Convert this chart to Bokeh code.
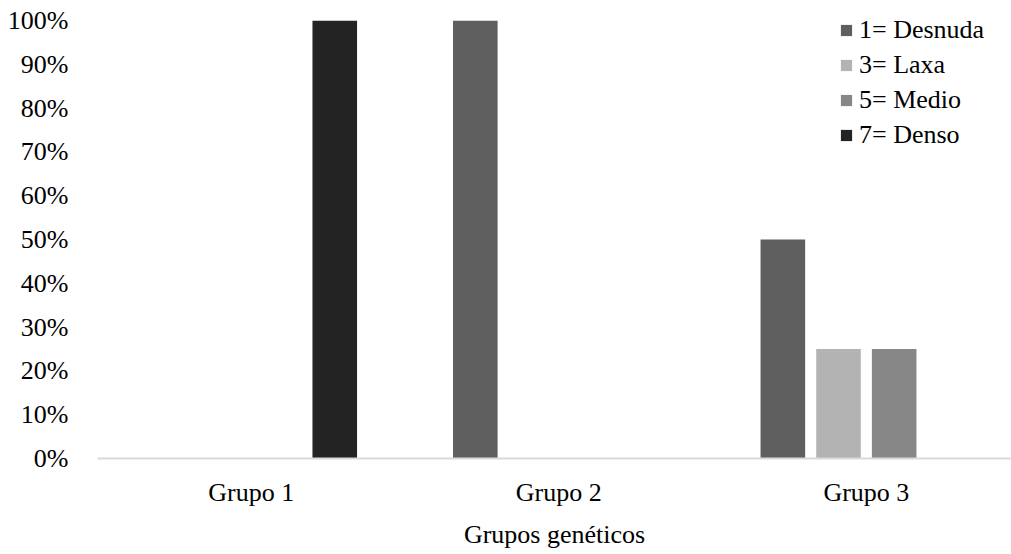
from bokeh.plotting import figure
from bokeh.models import Range1d, FixedTicker, NumeralTickFormatter, Legend, LegendItem, ColumnDataSource
from bokeh.transform import dodge
from bokeh.embed import file_html
from bokeh.resources import INLINE

groups = ["Grupo 1", "Grupo 2", "Grupo 3"]
series_names = ["1= Desnuda", "3= Laxa", "5= Medio", "7= Denso"]
desnuda = [0.0, 1.0, 0.50]
laxa = [0.0, 0.0, 0.25]
medio = [0.0, 0.0, 0.25]
denso = [1.0, 0.0, 0.0]
colors = ["#5f5f5f", "#b3b3b3", "#878787", "#232323"]
y_ticks = [0, 0.1, 0.2, 0.3, 0.4, 0.5, 0.6, 0.7, 0.8, 0.9, 1.0]

FONT = "Liberation Serif"
FS = "26px"

src = ColumnDataSource(dict(x=list(range(len(groups))), desnuda=desnuda, laxa=laxa, medio=medio, denso=denso))

p = figure(width=1011, height=552, output_backend="svg", toolbar_location=None,
           x_range=Range1d(-0.5, 2.472), y_range=Range1d(0, 1),
           min_border_left=97, min_border_right=0, min_border_top=20, min_border_bottom=94)
p.outline_line_color = None
p.xgrid.grid_line_color = None
p.ygrid.grid_line_color = None

cols = ["desnuda", "laxa", "medio", "denso"]
offsets = [-0.2715, -0.0905, 0.0905, 0.2715]
renderers = []
for c, off, col in zip(cols, offsets, colors):
    r = p.vbar(x=dodge("x", off), top=c, width=0.145, bottom=0, source=src,
               fill_color=col, line_color=None)
    renderers.append(r)

legend = Legend(items=[LegendItem(label=n, renderers=[r]) for n, r in zip(series_names, renderers)],
                location=(742, 306), padding=0, margin=0, spacing=0,
                glyph_width=14, glyph_height=14, label_height=35, label_standoff=6,
                border_line_color=None, background_fill_alpha=0,
                label_text_font=FONT, label_text_font_size=FS, label_text_color="#000000")
p.add_layout(legend, "center")

p.xaxis.ticker = FixedTicker(ticks=list(range(len(groups))))
p.xaxis.major_label_overrides = {i: g for i, g in enumerate(groups)}
p.xaxis.axis_line_color = "#d9d9d9"
p.xaxis.axis_line_width = 2
p.xaxis.major_tick_line_color = None
p.xaxis.minor_tick_line_color = None
p.xaxis.major_label_standoff = 13
p.xaxis.major_label_text_font = FONT
p.xaxis.major_label_text_font_size = FS
p.xaxis.major_label_text_color = "#000000"
p.xaxis.axis_label = "Grupos genéticos"
p.xaxis.axis_label_text_font = FONT
p.xaxis.axis_label_text_font_size = FS
p.xaxis.axis_label_text_font_style = "normal"
p.xaxis.axis_label_text_color = "#000000"
p.xaxis.axis_label_standoff = 10

p.yaxis.ticker = FixedTicker(ticks=y_ticks)
p.yaxis.formatter = NumeralTickFormatter(format="0%")
p.yaxis.axis_line_color = None
p.yaxis.major_tick_line_color = None
p.yaxis.minor_tick_line_color = None
p.yaxis.major_label_standoff = 23
p.yaxis.major_label_text_font = FONT
p.yaxis.major_label_text_font_size = FS
p.yaxis.major_label_text_color = "#000000"

open("out.html", "w").write(file_html(p, INLINE))
